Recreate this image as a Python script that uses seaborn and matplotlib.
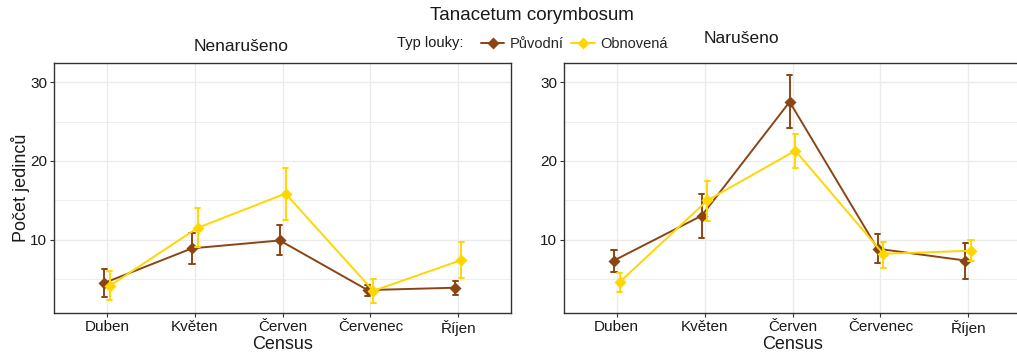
import numpy as np
import pandas as pd
import matplotlib
matplotlib.use("Agg")
import matplotlib.pyplot as plt
from matplotlib.ticker import MultipleLocator
import seaborn as sns

months = ["Duben", "Květen", "Červen", "Červenec", "Říjen"]
types = ["Původní", "Obnovená"]
panels = ["Nenarušeno", "Narušeno"]
colors = {"Původní": "#8B4513", "Obnovená": "#FFD700"}

# Nenarušeno
nen_puv_mean = [4.5, 8.9, 9.9, 3.6, 3.9]
nen_puv_lo = [2.7, 6.9, 8.05, 2.85, 3.0]
nen_puv_hi = [6.3, 10.9, 11.9, 4.25, 4.75]
nen_obn_mean = [4.15, 11.5, 15.85, 3.5, 7.4]
nen_obn_lo = [2.35, 9.1, 12.55, 1.9, 5.1]
nen_obn_hi = [6.05, 14.0, 19.15, 4.95, 9.75]
# Narušeno
nar_puv_mean = [7.35, 13.05, 27.5, 8.85, 7.35]
nar_puv_lo = [5.95, 10.2, 24.2, 7.1, 5.0]
nar_puv_hi = [8.75, 15.85, 30.9, 10.7, 9.6]
nar_obn_mean = [4.6, 15.0, 21.3, 8.2, 8.6]
nar_obn_lo = [3.4, 12.4, 19.15, 6.45, 7.35]
nar_obn_hi = [5.8, 17.5, 23.45, 9.75, 9.9]

series = {
    ("Nenarušeno", "Původní"): (nen_puv_mean, nen_puv_lo, nen_puv_hi),
    ("Nenarušeno", "Obnovená"): (nen_obn_mean, nen_obn_lo, nen_obn_hi),
    ("Narušeno", "Původní"): (nar_puv_mean, nar_puv_lo, nar_puv_hi),
    ("Narušeno", "Obnovená"): (nar_obn_mean, nar_obn_lo, nar_obn_hi),
}

rows = []
for (panel, typ), (m, lo, hi) in series.items():
    for i, mon in enumerate(months):
        for v in (lo[i], m[i], hi[i]):
            rows.append({"panel": panel, "typ": typ, "Census": mon, "value": v})
df = pd.DataFrame(rows)

sns.set_theme(style="white")
plt.rcParams["font.family"] = ["Liberation Sans", "DejaVu Sans"]

fig = plt.figure(figsize=(10.17, 3.56), dpi=100)
W, H = 1017, 356
def pos(x0, x1, y0, y1):
    return [x0 / W, 1 - y1 / H, (x1 - x0) / W, (y1 - y0) / H]

axes = [fig.add_axes(pos(54.3, 511, 63.3, 313.3)),
        fig.add_axes(pos(564, 1021, 63.3, 313.3))]

grey20 = "#333333"
for ax, panel in zip(axes, panels):
    sub = df[df.panel == panel]
    sns.pointplot(data=sub, x="Census", y="value", hue="typ", order=months,
                  hue_order=types, palette=colors, estimator=np.median,
                  errorbar=("pi", 100), dodge=0.065, markers="D",
                  capsize=0.06, linewidth=1.4, markersize=5,
                  err_kws={"linewidth": 1.4}, ax=ax)
    ax.set_xlim(-0.6, 4.6)
    ax.set_ylim(0.65, 32.4)
    ax.yaxis.set_major_locator(MultipleLocator(10))
    ax.yaxis.set_minor_locator(MultipleLocator(5))
    ax.set_axisbelow(True)
    ax.grid(which="major", color="#EBEBEB", linewidth=1.0)
    ax.grid(which="minor", axis="y", color="#EBEBEB", linewidth=0.6)
    for s in ax.spines.values():
        s.set_color(grey20)
        s.set_linewidth(1.0)
    ax.tick_params(axis="both", which="major", direction="out", length=3,
                   width=0.8, color=grey20, labelsize=11, labelcolor="#1a1a1a",
                   pad=2, left=True, bottom=True)
    ax.tick_params(axis="y", which="minor", length=0)
    ax.set_xlabel("Census", fontsize=13, labelpad=0, color="#1a1a1a")
    ax.set_ylabel("")
    leg = ax.get_legend()
    if leg is not None:
        handles, labels = ax.get_legend_handles_labels()
        leg.remove()

axes[0].set_ylabel("Počet jedinců", fontsize=13, labelpad=0, color="#1a1a1a")

fig.text(532 / W, 1 - 15 / H, "Tanacetum corymbosum", ha="center", va="center",
         fontsize=13.5, color="#1a1a1a")
fig.text(241 / W, 1 - 46.5 / H, "Nenarušeno", ha="center", va="center",
         fontsize=12.5, color="#1a1a1a")
fig.text(741 / W, 1 - 38.5 / H, "Narušeno", ha="center", va="center",
         fontsize=12.5, color="#1a1a1a")
fig.text(397 / W, 1 - 43.5 / H, "Typ louky:", ha="left", va="center",
         fontsize=10.5, color="#1a1a1a")
fig.legend(handles, labels, loc="center left", bbox_to_anchor=(481 / W, 1 - 44 / H),
           ncol=2, frameon=False, fontsize=10.5, handlelength=1.6,
           handletextpad=0.4, columnspacing=0.5, borderaxespad=0, borderpad=0)

fig.savefig("out.png", dpi=100)
